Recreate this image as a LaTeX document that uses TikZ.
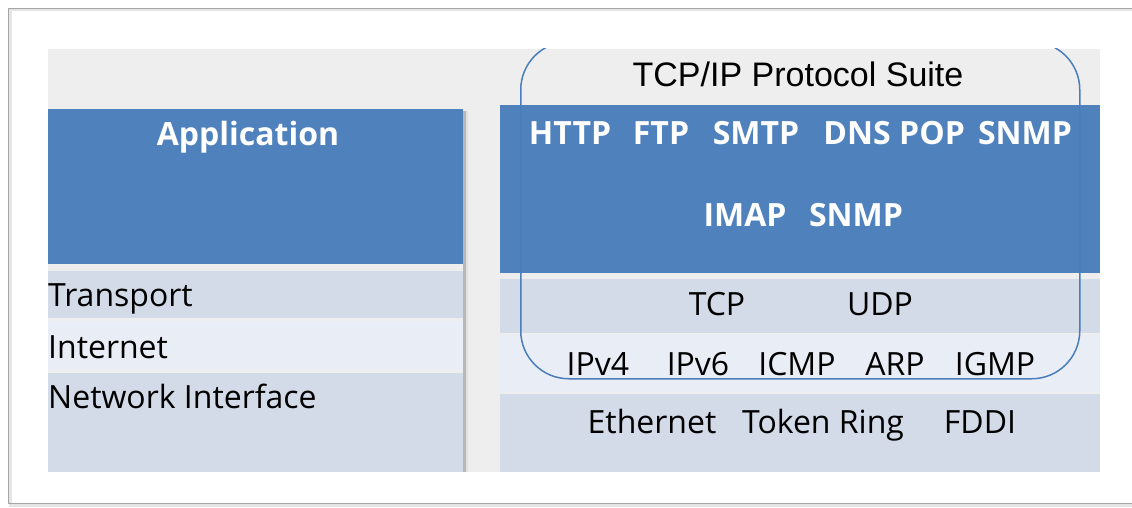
\documentclass[tikz,border=0pt]{standalone}
\usepackage{fontspec}
\setmainfont{Open Sans}
\newfontfamily\suitefont{Liberation Sans}
\definecolor{layerblue}{HTML}{4F81BD}
\definecolor{layerdark}{HTML}{D3DAE8}
\definecolor{layerlight}{HTML}{E9EDF5}
\definecolor{backgray}{HTML}{EEEEEE}
\definecolor{suiteline}{HTML}{4A7EBB}

\begin{document}
\begin{tikzpicture}[x=1pt, y=-1pt,
  layer/.style={inner sep=0pt, anchor=north west},
  word/.style={anchor=base, inner sep=0pt, font=\fontsize{32}{38}\selectfont},
  bold word/.style={word, font=\fontsize{32}{38}\selectfont\bfseries, text=white},
  side word/.style={word, anchor=base west}]

  \useasboundingbox (0,0) rectangle (1132,508);

  % outer frame
  \draw[black!10, line width=3pt] (10,10) rectangle (1145,505);
  \draw[black!35, line width=0.8pt] (8,8) rectangle (1145,503);

  \fill[backgray] (48,49) rectangle (1100,472);

  % shadow of the left column
  \fill[black!12] (463,111) rectangle (468,472);
  \fill[black!28] (463,111) rectangle (465.5,472);

  % left column
  \node[layer, fill=layerblue, minimum width=415, minimum height=155] (app) at (48,109) {};
  \node[layer, fill=layerdark, minimum width=415, minimum height=47] (transport) at (48,271) {};
  \node[layer, fill=layerlight, minimum width=415, minimum height=49] (internet) at (48,321) {};
  \node[layer, fill=layerdark, minimum width=415, minimum height=99] (netif) at (48,373) {};

  \node[bold word] (apptext) at (248,146) {Application};
  \node[side word] (transporttext) at (48,306) {Transport};
  \node[side word] (internettext) at (48,358) {Internet};
  \node[side word] (netiftext) at (48,408) {Network Interface};

  % right column
  \node[layer, fill=layerblue, minimum width=600, minimum height=168] (apps) at (500,105) {};
  \node[layer, fill=layerdark, minimum width=600, minimum height=54] (tcprow) at (500,279) {};
  \node[layer, fill=layerlight, minimum width=600, minimum height=57] (iprow) at (500,335) {};
  \node[layer, fill=layerdark, minimum width=600, minimum height=78] (linkrow) at (500,394) {};

  \node[bold word] (http) at (570,144) {HTTP};
  \node[bold word] (ftp) at (661,144) {FTP};
  \node[bold word] (smtp) at (756,144) {SMTP};
  \node[bold word] (dns) at (857,144) {DNS};
  \node[bold word] (pop) at (932,144) {POP};
  \node[bold word] (snmpone) at (1025,144) {SNMP};
  \node[bold word] (imap) at (745,226) {IMAP};
  \node[bold word] (snmptwo) at (856,226) {SNMP};

  \node[word] (tcp) at (717,315) {TCP};
  \node[word] (udp) at (880,315) {UDP};

  \node[word] (ipv4) at (598,375) {IPv4};
  \node[word] (ipv6) at (698,375) {IPv6};
  \node[word] (icmp) at (797,375) {ICMP};
  \node[word] (arp) at (895,375) {ARP};
  \node[word] (igmp) at (995,375) {IGMP};

  \node[word] (ethernet) at (652,433) {Ethernet};
  \node[word] (tokenring) at (823,433) {Token Ring};
  \node[word] (fddi) at (980,433) {FDDI};

  % suite outline
  \begin{scope}
    \clip (48,49) rectangle (1100,472);
    \node[layer, draw=suiteline, line width=1.5pt, rounded corners=48pt,
      minimum width=559, minimum height=337] (suite) at (520,41) {};
  \end{scope}
  \node[anchor=base, inner sep=0pt, font=\suitefont\fontsize{34}{40}\selectfont]
    (suitetitle) at (798,87) {TCP/IP Protocol Suite};

\end{tikzpicture}
\end{document}
